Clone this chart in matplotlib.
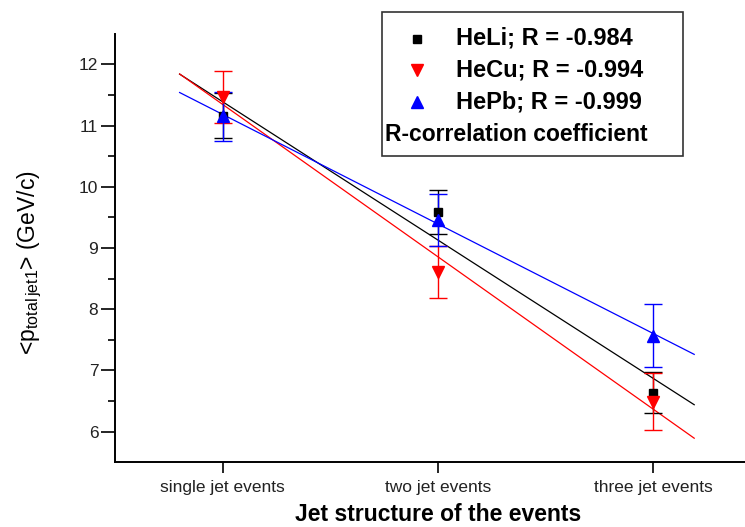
import numpy as np
import matplotlib
matplotlib.use("Agg")
import matplotlib.pyplot as plt
from matplotlib.lines import Line2D
from matplotlib.patches import Rectangle

plt.rcParams['font.family'] = ['Liberation Sans', 'DejaVu Sans']
plt.rcParams['mathtext.fontset'] = 'custom'
plt.rcParams['mathtext.rm'] = 'Liberation Sans'

categories = ["single jet events", "two jet events", "three jet events"]
positions = [1, 2, 3]

heli_p = [11.16, 9.59, 6.64]
heli_err = [0.37, 0.36, 0.33]
hecu_p = [11.47, 8.61, 6.49]
hecu_err = [0.43, 0.43, 0.47]
hepb_p = [11.15, 9.46, 7.57]
hepb_err = [0.40, 0.42, 0.52]

series = [
    ("HeLi; R = -0.984", heli_p, heli_err, "black", "s", 6.0),
    ("HeCu; R = -0.994", hecu_p, hecu_err, "red", "v", 9.0),
    ("HePb; R = -0.999", hepb_p, hepb_err, "blue", "^", 9.0),
]

fig = plt.figure(figsize=(7.45, 5.27), dpi=100)
ax = fig.add_axes([0.1544, 0.1228, 0.867, 0.813])

fit_x = np.array([0.8, 3.19])
for label, vals, errs, color, marker, ms in series:
    ax.errorbar(positions, vals, yerr=errs, fmt=marker, color=color,
                ms=ms, capsize=6.5, capthick=1.0, elinewidth=1.0, zorder=3)
    slope, intercept = np.polyfit(positions, vals, 1)
    ax.plot(fit_x, slope * fit_x + intercept, color=color, lw=0.9, zorder=2)

ax.set_xlim(0.5, 3.5)
ax.set_ylim(5.5, 12.5)
ax.set_xticks(positions)
ax.set_xticklabels(categories, fontsize=12.5, color='#222222')
ax.set_yticks([6, 7, 8, 9, 10, 11, 12])
ax.set_yticks(np.arange(6.5, 12.5, 1.0), minor=True)
ax.tick_params(axis='y', which='major', direction='out', length=10, width=1.2,
               labelsize=12.5, labelcolor='#222222', pad=2)
ax.tick_params(axis='y', which='minor', direction='out', length=5, width=1.2)
ax.tick_params(axis='x', which='major', direction='out', length=8, width=1.2, pad=5)
for side in ('top', 'right'):
    ax.spines[side].set_visible(False)
for side in ('left', 'bottom'):
    ax.spines[side].set_linewidth(1.4)

ax.set_xlabel("Jet structure of the events", fontsize=16.5, fontweight='bold', va='center')
ax.xaxis.set_label_coords(0.5, -0.121)
ax.set_ylabel(r"<p$_{\mathrm{total\,jet1}}$> (GeV/c)", fontsize=16.5, va='center')
ax.yaxis.set_label_coords(-0.132, 0.467)

# legend box with correlation coefficients
box = Rectangle((381.5 / 745, 1 - 156.5 / 527), (682.5 - 381.5) / 745, (156.5 - 12.5) / 527,
                transform=fig.transFigure, facecolor='white', edgecolor='#333333',
                lw=1.2, zorder=5)
fig.add_artist(box)
rows_y = [38.5, 70.0, 101.5]
for (label, vals, errs, color, marker, ms), ry in zip(series, rows_y):
    fig.add_artist(Line2D([416.5 / 745], [1 - ry / 527], marker=marker, color=color,
                          ms=ms * 0.9 if marker != 's' else 5.5, ls='none',
                          transform=fig.transFigure, zorder=6))
    fig.text(456 / 745, 1 - ry / 527, label, fontsize=17, fontweight='bold',
             va='center', ha='left', zorder=6)
fig.text(385 / 745, 1 - 135 / 527, "R-correlation coefficient", fontsize=16.5,
         fontweight='bold', va='center', ha='left', zorder=6)

fig.savefig("out.png", dpi=100)
